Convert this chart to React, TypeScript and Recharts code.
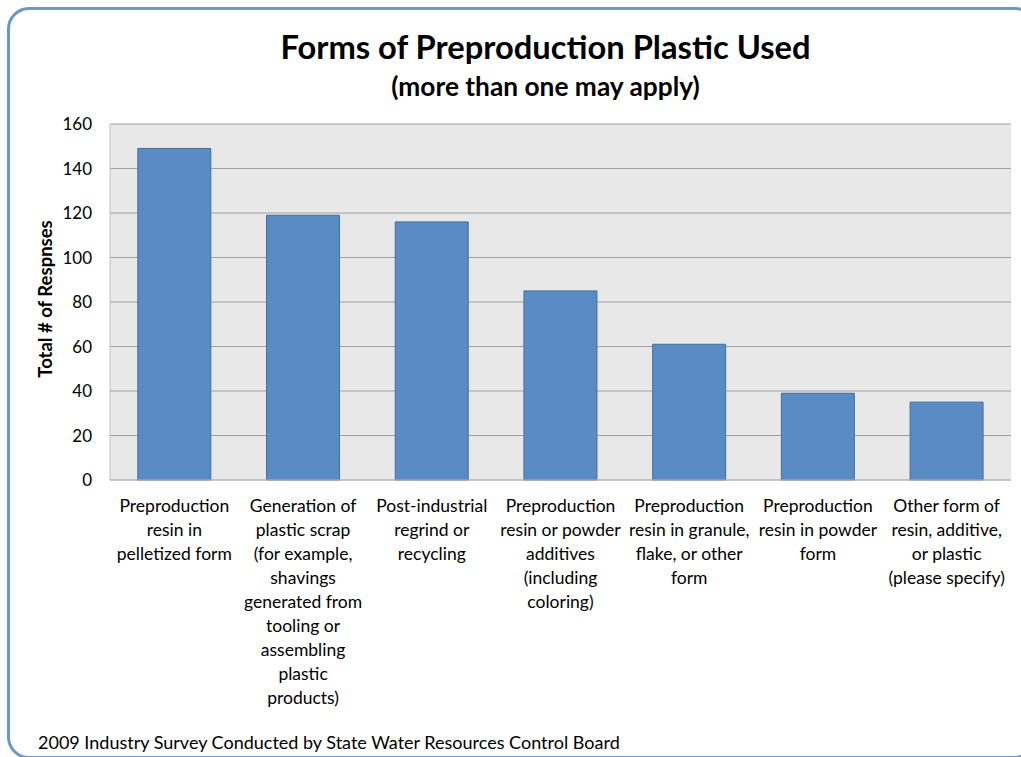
import { Bar, BarChart, CartesianGrid, XAxis, YAxis } from 'recharts';

const categories = [
    ['Preproduction', 'resin in', 'pelletized form'],
    ['Generation of', 'plastic scrap', '(for example,', 'shavings', 'generated from', 'tooling or', 'assembling', 'plastic', 'products)'],
    ['Post-industrial', 'regrind or', 'recycling'],
    ['Preproduction', 'resin or powder', 'additives', '(including', 'coloring)'],
    ['Preproduction', 'resin in granule,', 'flake, or other', 'form'],
    ['Preproduction', 'resin in powder', 'form'],
    ['Other form of', 'resin, additive,', 'or plastic', '(please specify)'],
];
const responses = [149, 119, 116, 85, 61, 39, 35];
const yTicks = [0, 20, 40, 60, 80, 100, 120, 140, 160];

const data = categories.map((lines, i) => ({ name: lines.join(' '), idx: i, value: responses[i] }));

const FONT = 'Lato, "Open Sans", sans-serif';

function CategoryTick({ x, y, payload }: any) {
    const lines = categories[payload.index] ?? [];
    return (
        <text x={x} y={y} textAnchor="middle" fill="#000" fontSize={17.5} fontFamily={FONT}>
            {lines.map((l, i) => (
                <tspan key={i} x={x} y={y + 24 + i * 24}>
                    {l}
                </tspan>
            ))}
        </text>
    );
}

export default function App() {
    return (
        <div style={{ position: 'absolute', left: 0, top: 0, width: 1021, height: 757, overflow: 'hidden', background: '#fff', fontFamily: FONT }}>
            <div
                style={{
                    position: 'absolute',
                    left: 7,
                    top: 7,
                    width: 1030,
                    height: 752,
                    border: '3px solid #6a96c9',
                    borderRadius: 22,
                    boxSizing: 'border-box',
                }}
            />
            <div style={{ position: 'absolute', left: 0, width: 1091, top: 31, lineHeight: '32px', textAlign: 'center', fontSize: 32.7, fontWeight: 700 }}>
                Forms of Preproduction Plastic Used
            </div>
            <div style={{ position: 'absolute', left: 0, width: 1091, top: 73, lineHeight: '26px', textAlign: 'center', fontSize: 26.3, fontWeight: 700 }}>
                (more than one may apply)
            </div>
            <div
                style={{
                    position: 'absolute',
                    left: 45,
                    top: 299,
                    lineHeight: '19px',
                    transform: 'translate(-50%, -50%) rotate(-90deg)',
                    whiteSpace: 'nowrap',
                    fontSize: 18.5,
                    fontWeight: 700,
                }}
            >
                Total # of Respnses
            </div>
            <div style={{ position: 'absolute', left: 38, top: 732, lineHeight: '20px', fontSize: 18, whiteSpace: 'nowrap' }}>
                2009 Industry Survey Conducted by State Water Resources Control Board
            </div>
            <div style={{ position: 'absolute', left: 0, top: 0 }}>
                <BarChart
                    width={1021}
                    height={757}
                    data={data}
                    margin={{ top: 124, right: 10, bottom: 0, left: 50 }}
                    barCategoryGap="21.6%"
                >
                    <CartesianGrid fill="#e8e8e8" stroke="#a0a0a0" vertical={false} />
                    <XAxis
                        dataKey="name"
                        interval={0}
                        tick={<CategoryTick />}
                        tickLine={false}
                        axisLine={{ stroke: '#bfbfbf' }}
                        height={277}
                    />
                    <YAxis
                        domain={[0, 160]}
                        ticks={yTicks}
                        width={60}
                        tickLine={false}
                        axisLine={{ stroke: '#bfbfbf' }}
                        tick={{ fill: '#000', fontSize: 17, fontFamily: FONT, dx: -10 }}
                    />
                    <Bar dataKey="value" fill="#5b8bc4" stroke="#41719c" strokeWidth={1} isAnimationActive={false} />
                </BarChart>
            </div>
        </div>
    );
}
